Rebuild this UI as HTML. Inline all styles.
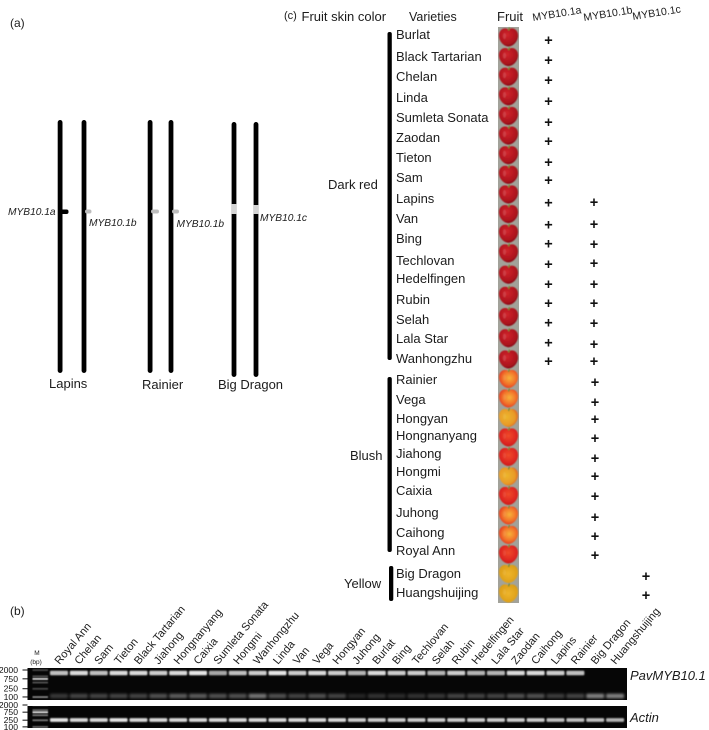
<!DOCTYPE html>
<html lang="en">
<head>
<meta charset="utf-8">
<title>MYB10.1 figure</title>
<style>
html,body{margin:0;padding:0;background:#fff;overflow:hidden;}
svg{display:block;width:709px;height:730px;font-family:"Liberation Sans",sans-serif;fill:#1c1c1c;filter:blur(0.3px);}
.v{font-size:13px;}
.p{font-size:14.5px;font-weight:bold;text-anchor:middle;fill:#111;}
.i{font-style:italic;font-size:10.2px;}
.h{font-size:10.6px;}
.m{font-size:8.6px;text-anchor:end;fill:#111;}
</style>
</head>
<body>
<svg id="figure" xmlns="http://www.w3.org/2000/svg" width="709" height="730" viewBox="0 0 709 730">
<defs>
<filter id="soft" x="-20%" y="-150%" width="140%" height="400%"><feGaussianBlur stdDeviation="0.7"/></filter>
<filter id="softest" x="-20%" y="-200%" width="140%" height="500%"><feGaussianBlur stdDeviation="1.2"/></filter>
<filter id="softer" x="-20%" y="-100%" width="140%" height="300%"><feGaussianBlur stdDeviation="0.5"/></filter>
<radialGradient id="g-dark" cx="42%" cy="35%" r="72%"><stop offset="0" stop-color="#d0242b"/><stop offset="0.7" stop-color="#ac131d"/><stop offset="1" stop-color="#750a14"/></radialGradient>
<radialGradient id="g-blush" cx="55%" cy="45%" r="65%"><stop offset="0" stop-color="#f6b23a"/><stop offset="0.55" stop-color="#f2722a"/><stop offset="1" stop-color="#dd2a20"/></radialGradient>
<radialGradient id="g-yblush" cx="40%" cy="45%" r="75%"><stop offset="0" stop-color="#ecb52c"/><stop offset="0.6" stop-color="#e89a28"/><stop offset="1" stop-color="#d83a26"/></radialGradient>
<radialGradient id="g-redblush" cx="50%" cy="40%" r="65%"><stop offset="0" stop-color="#ef4a2a"/><stop offset="0.7" stop-color="#dd2420"/><stop offset="1" stop-color="#bf1a1a"/></radialGradient>
<radialGradient id="g-yellow" cx="50%" cy="50%" r="65%"><stop offset="0" stop-color="#eeb52c"/><stop offset="0.8" stop-color="#dc9e18"/><stop offset="1" stop-color="#b98a18"/></radialGradient>
</defs>

<!-- panel a -->
<text x="10" y="27" font-size="12">(a)</text>
<g fill="#000">
<rect x="57.7" y="120" width="4.8" height="253" rx="2.4"/>
<rect x="81.6" y="120" width="4.8" height="253" rx="2.4"/>
<rect x="147.7" y="120" width="4.8" height="253" rx="2.4"/>
<rect x="168.6" y="120" width="4.8" height="253" rx="2.4"/>
<rect x="231.6" y="122" width="4.8" height="255" rx="2.4"/>
<rect x="253.6" y="122" width="4.8" height="255" rx="2.4"/>
<rect x="231.6" y="204" width="4.8" height="10" fill="#d4d4d4"/>
<rect x="253.6" y="205" width="4.8" height="9" fill="#d4d4d4"/>
<rect x="60" y="209.5" width="8.5" height="4.5" rx="2" fill="#000"/>
<rect x="85" y="209.5" width="6.5" height="4" rx="2" fill="#bdbdbd"/>
<rect x="151" y="209.5" width="8" height="4" rx="2" fill="#bdbdbd"/>
<rect x="172" y="209.5" width="7" height="4" rx="2" fill="#bdbdbd"/>
</g>
<text class="i" x="8" y="215">MYB10.1a</text>
<text class="i" x="89" y="226">MYB10.1b</text>
<text class="i" x="176.500" y="227">MYB10.1b</text>
<text class="i" x="260" y="221">MYB10.1c</text>
<text x="49" y="388" font-size="13">Lapins</text>
<text x="142" y="389" font-size="13">Rainier</text>
<text x="218" y="389" font-size="13">Big Dragon</text>

<!-- panel c header -->
<text x="284" y="19" font-size="11">(c)</text>
<text x="301.500" y="21" font-size="13">Fruit skin color</text>
<text x="409" y="21" font-size="12.500">Varieties</text>
<text x="497" y="21" font-size="13">Fruit</text>
<text class="h" transform="translate(533,21) rotate(-9)">MYB10.1a</text>
<text class="h" transform="translate(584,21) rotate(-9)">MYB10.1b</text>
<text class="h" transform="translate(633,20) rotate(-9)">MYB10.1c</text>

<!-- group bars -->
<rect x="387.500" y="32" width="4.300" height="328" rx="2" fill="#000"/>
<rect x="387.500" y="377" width="4.300" height="175" rx="2" fill="#000"/>
<rect x="389" y="566" width="4.300" height="35" rx="2" fill="#000"/>
<text class="v" x="328" y="189">Dark red</text>
<text class="v" x="350" y="460">Blush</text>
<text class="v" x="344" y="588">Yellow</text>

<!-- variety names -->
<g>
<text class="v" x="396" y="39">Burlat</text>
<text class="v" x="396" y="61">Black Tartarian</text>
<text class="v" x="396" y="81">Chelan</text>
<text class="v" x="396" y="102">Linda</text>
<text class="v" x="396" y="122">Sumleta Sonata</text>
<text class="v" x="396" y="142">Zaodan</text>
<text class="v" x="396" y="162">Tieton</text>
<text class="v" x="396" y="182">Sam</text>
<text class="v" x="396" y="203">Lapins</text>
<text class="v" x="396" y="223">Van</text>
<text class="v" x="396" y="243">Bing</text>
<text class="v" x="396" y="265">Techlovan</text>
<text class="v" x="396" y="283">Hedelfingen</text>
<text class="v" x="396" y="304">Rubin</text>
<text class="v" x="396" y="324">Selah</text>
<text class="v" x="396" y="343">Lala Star</text>
<text class="v" x="396" y="363">Wanhongzhu</text>
<text class="v" x="396" y="384">Rainier</text>
<text class="v" x="396" y="404">Vega</text>
<text class="v" x="396" y="423">Hongyan</text>
<text class="v" x="396" y="440">Hongnanyang</text>
<text class="v" x="396" y="458">Jiahong</text>
<text class="v" x="396" y="476">Hongmi</text>
<text class="v" x="396" y="495">Caixia</text>
<text class="v" x="396" y="517">Juhong</text>
<text class="v" x="396" y="537">Caihong</text>
<text class="v" x="396" y="555">Royal Ann</text>
<text class="v" x="396" y="578">Big Dragon</text>
<text class="v" x="396" y="597">Huangshuijing</text>
</g>

<!-- fruit column -->
<rect x="498" y="27" width="21" height="576" fill="#a2a29a"/>
<g id="fruits"></g>

<!-- presence marks -->
<g>
<text class="p" x="548.500" y="45">+</text>
<text class="p" x="548.500" y="65">+</text>
<text class="p" x="548.500" y="85">+</text>
<text class="p" x="548.500" y="106">+</text>
<text class="p" x="548.500" y="127">+</text>
<text class="p" x="548.500" y="146">+</text>
<text class="p" x="548.500" y="167">+</text>
<text class="p" x="548.500" y="185">+</text>
<text class="p" x="548.500" y="207.500">+</text>
<text class="p" x="548.500" y="229.500">+</text>
<text class="p" x="548.500" y="248.500">+</text>
<text class="p" x="548.500" y="269">+</text>
<text class="p" x="548.500" y="289">+</text>
<text class="p" x="548.500" y="308">+</text>
<text class="p" x="548.500" y="327.500">+</text>
<text class="p" x="548.500" y="347.500">+</text>
<text class="p" x="548.500" y="366">+</text>
</g>
<g>
<text class="p" x="594" y="207">+</text>
<text class="p" x="594" y="229">+</text>
<text class="p" x="594" y="249">+</text>
<text class="p" x="594" y="268">+</text>
<text class="p" x="594" y="289">+</text>
<text class="p" x="594" y="308">+</text>
<text class="p" x="594" y="328">+</text>
<text class="p" x="594" y="349">+</text>
<text class="p" x="594" y="366">+</text>
<text class="p" x="595" y="387">+</text>
<text class="p" x="595" y="407">+</text>
<text class="p" x="595" y="424">+</text>
<text class="p" x="595" y="443">+</text>
<text class="p" x="595" y="463">+</text>
<text class="p" x="595" y="481">+</text>
<text class="p" x="595" y="501">+</text>
<text class="p" x="595" y="522">+</text>
<text class="p" x="595" y="541">+</text>
<text class="p" x="595" y="560">+</text>
</g>
<g>
<text class="p" x="646" y="581">+</text>
<text class="p" x="646" y="600">+</text>
</g>

<!-- panel b -->
<text x="10" y="615" font-size="12">(b)</text>
<text x="37" y="655" font-size="6.500" text-anchor="middle">M</text>
<text x="36" y="664" font-size="6.500" text-anchor="middle">(bp)</text>
<rect x="27.500" y="668" width="599.500" height="32" fill="#060606"/>
<rect x="27.500" y="706" width="599.500" height="22" fill="#060606"/>
<g id="sizeAxis"></g>
<g id="markers"></g>
<g id="lanes"></g>
<g id="laneLabels"></g>
<text x="630" y="680" font-size="13" font-style="italic">PavMYB10.1</text>
<text x="630" y="722" font-size="13" font-style="italic">Actin</text>
</svg>
<script>
const laneNames = ["Royal Ann","Chelan","Sam","Tieton","Black Tartarian","Jiahong","Hongnanyang","Caixia","Sumleta Sonata","Hongmi","Wanhongzhu","Linda","Van","Vega","Hongyan","Juhong","Burlat","Bing","Techlovan","Selah","Rubin","Hedelfingen","Lala Star","Zaodan","Caihong","Lapins","Rainier","Big Dragon","Huangshuijing"];
const upperBand = [0.75,0.85,0.75,0.85,0.85,0.8,0.85,0.9,0.65,0.75,0.8,0.9,0.8,0.85,0.8,0.7,0.85,0.8,0.8,0.7,0.8,0.7,0.7,0.85,0.85,0.8,0.75,0,0];
const lowerBand = [0.2,0.25,0.25,0.25,0.25,0.3,0.35,0.35,0.3,0.3,0.45,0.3,0.25,0.3,0.25,0.12,0.18,0.15,0.18,0.2,0.25,0.25,0.25,0.3,0.3,0.22,0.25,0.5,0.5];
const actinBand = [0.9,0.85,0.85,0.9,0.85,0.85,0.85,0.85,0.85,0.85,0.85,0.85,0.85,0.85,0.85,0.8,0.8,0.8,0.8,0.8,0.8,0.8,0.8,0.8,0.8,0.75,0.75,0.75,0.7];
const sizeTicks = [2000,750,250,100];
const markerSizes = [2000,1000,750,500,250,100];
const upperMarker = [0.25,0.3,0.85,0.3,0.25,0.5];
const lowerMarker = [0.4,0.4,0.9,0.45,0.45,0.4];
const fruitTypes = ["dark","dark","dark","dark","dark","dark","dark","dark","dark","dark","dark","dark","dark","dark","dark","dark","dark","blush","blush","yblush","redblush","redblush","yblush","redblush","blush","blush","redblush","yellow","yellow"];
const NS = "http://www.w3.org/2000/svg";
function laneX(i){ return 59 + i * 19.86; }
function fruitY(i){
  if (i <= 11) return 37 + i * 19.63;
  if (i <= 16) return 253 + (i - 11) * 21.2;
  return 359 + (i - 16) * 19.5;
}
function upperY(s){ return 670 + Math.log(2000 / s) * 9; }
function lowerY(s){ return 705 + Math.log(2000 / s) * 7.3; }
function add(parent, tag, attrs){
  const el = document.createElementNS(NS, tag);
  for (const k in attrs) el.setAttribute(k, attrs[k]);
  parent.appendChild(el);
  return el;
}
const fruitGroup = document.getElementById("fruits");
fruitTypes.forEach(function(type, i){
  const g = add(fruitGroup, "g", {transform: "translate(508.5," + fruitY(i) + ")", filter: "url(#softer)"});
  
  
  add(g, "path", {d: "M0,-7.500 C3,-10 9.500,-8.500 9.500,-1.500 C9.500,5 4,9.500 0,9.500 C-4,9.500 -9.500,5 -9.500,-1.500 C-9.500,-8.500 -3,-10 0,-7.500 Z", fill: "url(#g-" + type + ")"});
  add(g, "path", {d: "M0,-6.500 L1,-9.500", stroke: "#6b8a30", "stroke-width": "1.2", fill: "none"});
  add(g, "ellipse", {cx: "-4", cy: "-1", rx: "1.500", ry: "3", fill: "#fff", opacity: type === "dark" ? "0.14" : "0.08"});
});
const laneGroup = document.getElementById("lanes");
function band(values, y, h, name, filter){
  values.forEach(function(v, i){
    if (v <= 0) return;
    const r = add(laneGroup, "rect", {x: laneX(i) - 9, y: y - h / 2, width: 18, height: h, rx: 1, fill: "#fff", opacity: v, filter: filter});
    
    
  });
}
band(upperBand, 673, 4.6, 'upper-band', 'url(#soft)');
band(lowerBand, 696, 4.6, 'lower-band', 'url(#softest)');
band(actinBand, 720, 3.8, 'actin-band', 'url(#soft)');
const markerGroup = document.getElementById("markers");
function markers(values, scale, name){
  values.forEach(function(v, k){
    const r = add(markerGroup, "rect", {x: 32.5, y: scale(markerSizes[k]) - 0.8, width: 15.5, height: 1.8, fill: "#fff", opacity: v, filter: "url(#softer)"});
    
    
  });
}
markers(upperMarker, upperY, 'upper-marker-band');
markers(lowerMarker, lowerY, 'lower-marker-band');
const axisGroup = document.getElementById("sizeAxis");
function sizeAxis(scale, name){
  sizeTicks.forEach(function(s){
    const t = add(axisGroup, "rect", {x: 22.5, y: scale(s) - 0.5, width: 5, height: 1, fill: "#111"});
    
    
    const l = add(axisGroup, "text", {class: "m", x: 18, y: scale(s) + 3});
    
    
    l.textContent = s;
  });
}
sizeAxis(upperY, 'upper-size');
sizeAxis(lowerY, 'lower-size');
const labelGroup = document.getElementById("laneLabels");
laneNames.forEach(function(name, i){
  const t = add(labelGroup, "text", {transform: "translate(" + (laneX(i) + 0.5) + ",665) rotate(-50)", "font-size": "11"});
  
  
  t.textContent = name;
});
</script>
</body>
</html>
